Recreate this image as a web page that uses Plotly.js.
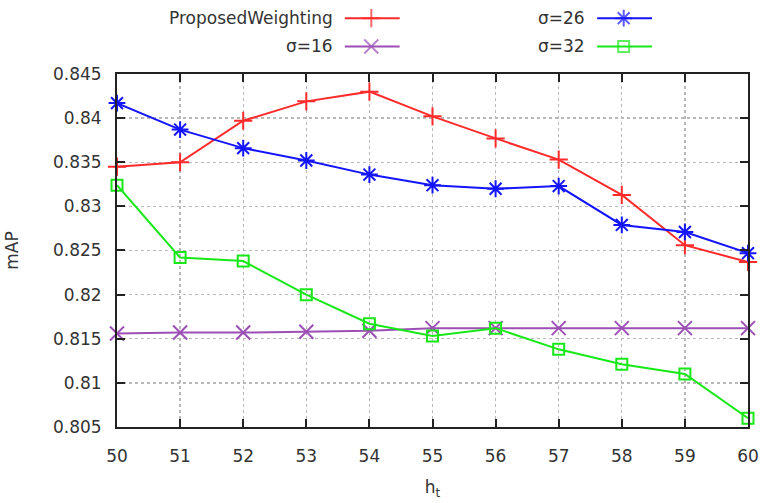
<!DOCTYPE html>
<html><head><meta charset="utf-8">
<script src="https://cdn.plot.ly/plotly-3.0.1.min.js"></script>
<style>html,body{margin:0;padding:0;background:#fff;}#chart{width:763px;height:503px;}</style>
</head><body><div id="chart"></div>
<script>
const ht = [50,51,52,53,54,55,56,57,58,59,60];
const proposed = [0.8345,0.8350,0.8397,0.8419,0.8430,0.8402,0.8377,0.8353,0.8313,0.8256,0.8237];
const sigma16  = [0.8156,0.8157,0.8157,0.8158,0.8159,0.8162,0.8162,0.8162,0.8162,0.8162,0.8162];
const sigma26  = [0.8417,0.8387,0.8366,0.8352,0.8336,0.8324,0.8320,0.8323,0.8279,0.8271,0.8247];
const sigma32  = [0.8324,0.8242,0.8238,0.8200,0.8167,0.8153,0.8162,0.8138,0.8121,0.8110,0.8060];
const yTickVals = [0.805,0.81,0.815,0.82,0.825,0.83,0.835,0.84,0.845];
const yTickText = ["0.805","0.81","0.815","0.82","0.825","0.83","0.835","0.84","0.845"];
const seriesNames = ["ProposedWeighting","σ=16","σ=26","σ=32"];

const colors = ["#ff2a2a","#9c4fb4","#1414ff","#18e818"];
const symbols = ["cross-thin-open","x-thin-open","asterisk-open","square-open"];
const sizes = [13,14,14,11];
const data = [proposed, sigma16, sigma26, sigma32];
const FONT = 'DejaVu Sans, sans-serif';

const traces = data.map((ys,i)=>({
  x: ht, y: ys, type:'scatter', mode:'lines+markers', name: seriesNames[i],
  line:{color:colors[i], width:2},
  marker:{symbol:symbols[i], size:sizes[i], color:colors[i], line:{color:colors[i], width:2}},
  showlegend:false, cliponaxis:false
}));

// gnuplot-style key (text, then sample) on a hidden axis strip above the plot
const legPos = [[0.345,0.75],[0.345,0.36],[0.745,0.75],[0.745,0.36]];
const annotations = [];
legPos.forEach((p,i)=>{
  traces.push({x:[p[0]+0.016, p[0]+0.058, p[0]+0.103], y:[p[1],p[1],p[1]], xaxis:'x2', yaxis:'y2',
    type:'scatter', mode:'lines+markers', showlegend:false, hoverinfo:'skip', cliponaxis:false,
    line:{color:colors[i], width:2},
    marker:{symbol:symbols[i], size:[0,sizes[i],0], color:colors[i], line:{color:colors[i], width:2}}});
  annotations.push({xref:'x2', yref:'y2', x:p[0], y:p[1], text:seriesNames[i], showarrow:false,
    xanchor:'right', yanchor:'middle', font:{size:17, color:'#333', family:FONT}});
});

const axCommon = {showline:true, mirror:'ticks', linecolor:'#222', linewidth:2,
  ticks:'inside', ticklen:8, tickwidth:2, tickcolor:'#222',
  showgrid:true, gridcolor:'#b8b8b8', griddash:'dot', gridwidth:1.3, zeroline:false};

const layout = {
  width:763, height:503,
  margin:{l:117, r:15, t:0, b:76},
  paper_bgcolor:'#fff', plot_bgcolor:'#fff',
  font:{family:FONT, size:17, color:'#333'},
  xaxis:Object.assign({range:[50,60], tickmode:'array', tickvals:ht, ticktext:ht.map(String),
    ticklabelstandoff:13, title:{text:'h<sub>t</sub>', font:{size:17}, standoff:16}}, axCommon),
  yaxis:Object.assign({domain:[0,0.8267], range:[0.805,0.845], tickmode:'array', tickvals:yTickVals, ticktext:yTickText,
    ticklabelstandoff:10, title:{text:'mAP', font:{size:17}, standoff:30}}, axCommon),
  xaxis2:{range:[0,1], visible:false, anchor:'y2', fixedrange:true},
  yaxis2:{domain:[0.83,1], range:[0,1], visible:false, anchor:'x2', fixedrange:true},
  annotations: annotations,
  showlegend:false
};
Plotly.newPlot('chart', traces, layout, {displayModeBar:false, staticPlot:true});
</script></body></html>
